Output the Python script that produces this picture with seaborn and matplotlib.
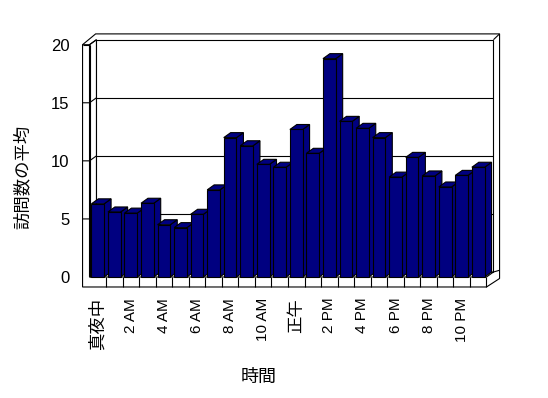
import matplotlib
matplotlib.use('Agg')
import matplotlib.pyplot as plt
import seaborn as sns
import pandas as pd
from matplotlib.patches import Polygon

# ---- data ----
hours = ['真夜中', '1 AM', '2 AM', '3 AM', '4 AM', '5 AM', '6 AM', '7 AM',
         '8 AM', '9 AM', '10 AM', '11 AM', '正午', '1 PM', '2 PM', '3 PM',
         '4 PM', '5 PM', '6 PM', '7 PM', '8 PM', '9 PM', '10 PM', '11 PM']
visits = [6.3, 5.6, 5.5, 6.35, 4.5, 4.25, 5.4, 7.5, 12.0, 11.3, 9.7, 9.45,
          12.7, 10.65, 18.8, 13.4, 12.8, 12.0, 8.6, 10.3, 8.7, 7.75, 8.75, 9.45]
y_ticks = [0, 5, 10, 15, 20]
x_title = '時間'
y_title = '訪問数の平均'

sns.set_theme(style='white')
plt.rcParams['font.family'] = ['Liberation Sans', 'Noto Sans CJK JP', 'DejaVu Sans']

W, H = 548, 398
fig = plt.figure(figsize=(W / 100, H / 100), dpi=100)
fig.patch.set_facecolor('white')
ax = fig.add_axes([89.5 / W, 1 - 277 / H, 397 / W, 232.3 / H])
ax.set_facecolor('none')

df = pd.DataFrame({'hour': hours, 'visits': visits})
sns.barplot(data=df, x='hour', y='visits', order=hours, color='#000080',
            saturation=1, width=0.77, edgecolor='black', linewidth=0.8,
            errorbar=None, ax=ax)

x0, x1 = -0.5, len(hours) - 0.5
y0, y1 = 0, 20
ax.set_xlim(x0, x1)
ax.set_ylim(y0, y1)

# 3D depth in data units (about 7 px right, 5 px up)
DX, DY = 0.42, 0.43
EX, EY = 0.37, 0.5     # back-wall thickness
TW = 0.42              # left wall thickness
FT = 0.86              # floor thickness
lw = 0.8
K = 'black'

def poly(pts, z, fc='white'):
    p = Polygon(pts, closed=True, facecolor=fc, edgecolor=K, linewidth=lw,
                zorder=z, clip_on=False)
    ax.add_patch(p)

def line(xs, ys, z=1.5):
    ax.add_line(plt.Line2D(xs, ys, color=K, linewidth=lw, zorder=z,
                           clip_on=False, solid_capstyle='butt'))

# silhouette of walls and floor
poly([(x0 - TW, y0 - FT), (x0 - TW, y1), (x0 - TW + DX + EX, y1 + DY + EY),
      (x1 + DX + EX, y1 + DY + EY), (x1 + DX + EX, y0 - FT + DY + EY * 0.6),
      (x1, y0 - FT)], 0.2)
# back wall inner face
poly([(x0 + DX, y0 + DY), (x1 + DX, y0 + DY), (x1 + DX, y1 + DY),
      (x0 + DX, y1 + DY)], 0.3)
# left wall inner face
poly([(x0, y0), (x0 + DX, y0 + DY), (x0 + DX, y1 + DY), (x0, y1)], 0.3)
# floor top face
poly([(x0, y0), (x1, y0), (x1 + DX, y0 + DY), (x0 + DX, y0 + DY)], 0.3)
# front faces of left wall and floor
line([x0, x0], [y0, y1], 0.4)
line([x0 - TW, x0], [y1, y1], 0.4)
line([x1, x1], [y0 - FT, y0], 0.4)
line([x1 + DX, x1 + DX + EX], [y1 + DY, y1 + DY + EY], 0.4)
line([x1 + DX, x1 + DX + EX], [y0 + DY, y0 + DY + EY * 0.3], 0.4)

# gridlines on back wall + ticks on left wall
for v in y_ticks[1:-1]:
    line([x0 + DX, x1 + DX], [v + DY, v + DY], 0.4)
for v in y_ticks[1:]:
    line([x0 - TW, x0, x0 + DX], [v, v, v + DY], 0.4)

# category dividers on floor front
for k in range(1, len(hours)):
    line([k - 0.5, k - 0.5], [y0 - FT, y0], 0.4)

# 3D bar tops and sides
for i, p in enumerate(ax.patches[:len(hours)]):
    x, w, h = p.get_x(), p.get_width(), p.get_height()
    p.set_zorder(3 + 2 * i)
    p.set_clip_on(False)
    poly([(x + w, 0), (x + w + DX, DY), (x + w + DX, h + DY), (x + w, h)],
         2 + 2 * i, fc='#000080')
    poly([(x, h), (x + w, h), (x + w + DX, h + DY), (x + DX, h + DY)],
         2 + 2 * i, fc='#000080')

# ticks and labels
for s in ax.spines.values():
    s.set_visible(False)
ax.set_xticks(range(len(hours)))
ax.set_xticklabels([h if i % 2 == 0 else '' for i, h in enumerate(hours)],
                   rotation=90)
ax.set_yticks(y_ticks)
ax.set_yticklabels([str(v) for v in y_ticks])
ax.tick_params(axis='x', length=0, pad=15, labelsize=11, colors='black')
ax.tick_params(axis='y', length=0, pad=14.5, labelsize=12, colors='black')
for t in ax.get_xticklabels():
    if t.get_text() in ('真夜中', '正午'):
        t.set_fontsize(12.5)
ax.set_xlabel('')
ax.set_ylabel('')

fig.text(22 / W, 1 - 177 / H, y_title, rotation=90, ha='center', va='center',
         fontsize=12.5, color='black')
fig.text(259 / W, 1 - 377 / H, x_title, ha='center', va='center',
         fontsize=13, color='black')

fig.savefig('out.png', dpi=100, facecolor='white')
